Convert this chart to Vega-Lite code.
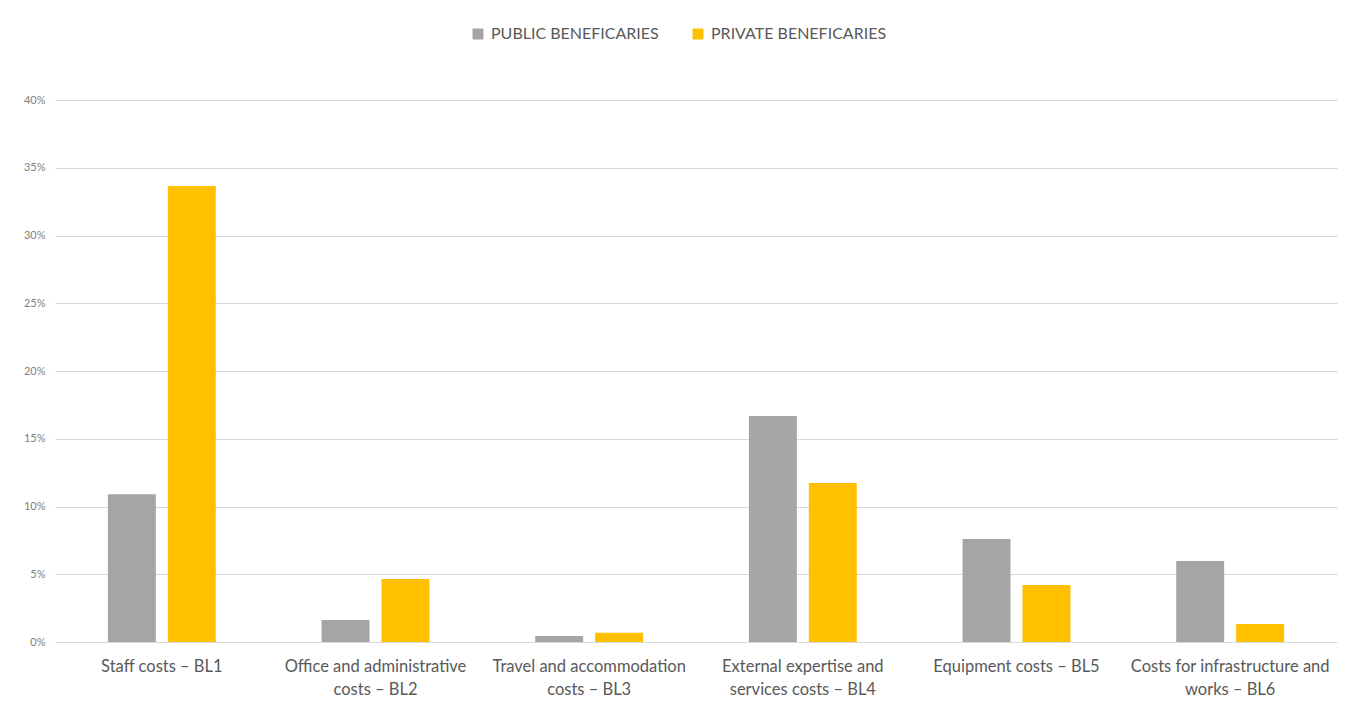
{
  "$schema": "https://vega.github.io/schema/vega-lite/v6.json",
  "autosize": {"type": "none"},
  "width": 1282,
  "height": 542,
  "padding": {"left": 55, "top": 100, "right": 8, "bottom": 83},
  "background": "white",
  "data": {
    "values": [
      {"line": "Staff costs – BL1", "group": "PUBLIC BENEFICARIES", "share": 0.109},
      {"line": "Staff costs – BL1", "group": "PRIVATE BENEFICARIES", "share": 0.3365},
      {"line": "Office and administrative costs – BL2", "group": "PUBLIC BENEFICARIES", "share": 0.0162},
      {"line": "Office and administrative costs – BL2", "group": "PRIVATE BENEFICARIES", "share": 0.0465},
      {"line": "Travel and accommodation costs – BL3", "group": "PUBLIC BENEFICARIES", "share": 0.0044},
      {"line": "Travel and accommodation costs – BL3", "group": "PRIVATE BENEFICARIES", "share": 0.0069},
      {"line": "External expertise and services costs – BL4", "group": "PUBLIC BENEFICARIES", "share": 0.1668},
      {"line": "External expertise and services costs – BL4", "group": "PRIVATE BENEFICARIES", "share": 0.1173},
      {"line": "Equipment costs – BL5", "group": "PUBLIC BENEFICARIES", "share": 0.076},
      {"line": "Equipment costs – BL5", "group": "PRIVATE BENEFICARIES", "share": 0.042},
      {"line": "Costs for infrastructure and works – BL6", "group": "PUBLIC BENEFICARIES", "share": 0.0598},
      {"line": "Costs for infrastructure and works – BL6", "group": "PRIVATE BENEFICARIES", "share": 0.0133}
    ]
  },
  "mark": {"type": "bar"},
  "encoding": {
    "x": {
      "field": "line",
      "type": "nominal",
      "sort": null,
      "scale": {"paddingInner": 0.495, "paddingOuter": 0.2475},
      "axis": {
        "title": null,
        "labelAngle": 0,
        "domain": false,
        "ticks": false,
        "labelPadding": 16,
        "labelFontSize": 16.5,
        "labelLineHeight": 23,
        "labelColor": "#595959",
        "labelLimit": 300,
        "labelExpr": "datum.value == 'Office and administrative costs – BL2' ? ['Office and administrative', 'costs – BL2'] : datum.value == 'Travel and accommodation costs – BL3' ? ['Travel and accommodation', 'costs – BL3'] : datum.value == 'External expertise and services costs – BL4' ? ['External expertise and', 'services costs – BL4'] : datum.value == 'Costs for infrastructure and works – BL6' ? ['Costs for infrastructure and', 'works – BL6'] : datum.value"
      }
    },
    "xOffset": {
      "field": "group",
      "type": "nominal",
      "sort": ["PUBLIC BENEFICARIES", "PRIVATE BENEFICARIES"],
      "scale": {"paddingInner": 0.2, "paddingOuter": 0}
    },
    "y": {
      "field": "share",
      "type": "quantitative",
      "scale": {"domain": [0, 0.4], "nice": false},
      "axis": {
        "title": null,
        "format": ".0%",
        "values": [0, 0.05, 0.1, 0.15, 0.2, 0.25, 0.3, 0.35, 0.4],
        "domain": false,
        "ticks": false,
        "labelPadding": 10,
        "labelFontSize": 11,
        "labelColor": "#808080",
        "gridColor": "#D9D9D9",
        "gridWidth": 1
      }
    },
    "color": {
      "field": "group",
      "type": "nominal",
      "sort": ["PUBLIC BENEFICARIES", "PRIVATE BENEFICARIES"],
      "scale": {"domain": ["PUBLIC BENEFICARIES", "PRIVATE BENEFICARIES"], "range": ["#A5A5A5", "#FFC000"]},
      "legend": {
        "title": null,
        "orient": "none",
        "direction": "horizontal",
        "legendX": 415,
        "legendY": -74,
        "symbolType": "square",
        "symbolSize": 120,
        "symbolStrokeWidth": 0,
        "labelFontSize": 16,
        "labelLimit": 400,
        "labelColor": "#595959",
        "labelOffset": 5,
        "columnPadding": 31
      }
    }
  },
  "config": {
    "font": "Lato",
    "view": {"stroke": null}
  }
}
